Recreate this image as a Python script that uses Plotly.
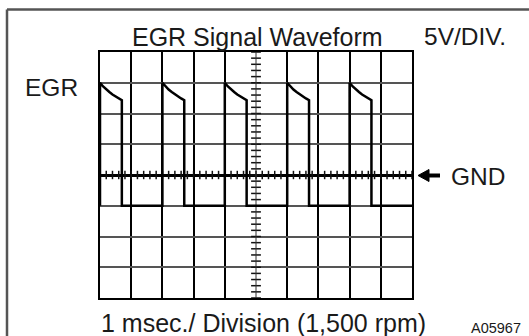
import plotly.graph_objects as go

# ---- data (time in ms, voltage in V, 5 V/div, 1 ms/div) ----
pulse_starts_ms = [0, 2, 4, 6, 8]
decay_offsets_ms = [0.0, 0.1, 0.2, 0.3, 0.4, 0.5, 0.6, 0.7]
decay_volts = [15.0, 14.4, 13.9, 13.5, 13.1, 12.75, 12.45, 12.15]
low_volts = -5.0
end_time_ms = 10.0

title_text = "EGR Signal Waveform"
scale_text = "5V/DIV."
signal_label = "EGR"
ground_label = "GND"
time_text = "1 msec./ Division (1,500 rpm)"
figure_id = "A05967"

# ---- build waveform ----
wx, wy = [0.0], [low_volts]
for t0 in pulse_starts_ms:
    wx.append(t0); wy.append(low_volts)
    for dt, v in zip(decay_offsets_ms, decay_volts):
        wx.append(t0 + dt); wy.append(v)
    wx.append(t0 + decay_offsets_ms[-1]); wy.append(low_volts)
wx.append(end_time_ms); wy.append(low_volts)

W, H = 529, 336
L, R, T, B = 100, 412, 52, 298


def px(x):
    return (x - L) / (R - L)


def py(y):
    return (B - y) / (B - T)


FONT = "Liberation Sans, Arial, Helvetica, sans-serif"

fig = go.Figure()

# center graticule ticks
hticks = [i * 0.2 for i in range(51)]
vticks = [-20 + i * 1.0 for i in range(41)]
fig.add_trace(go.Scatter(x=hticks, y=[0] * len(hticks), mode="markers",
                         marker=dict(symbol="line-ns", size=6, line=dict(width=1.5, color="#111")),
                         hoverinfo="skip", showlegend=False, cliponaxis=False))
fig.add_trace(go.Scatter(x=[5] * len(vticks), y=vticks, mode="markers",
                         marker=dict(symbol="line-ew", size=7, line=dict(width=1.5, color="#111")),
                         hoverinfo="skip", showlegend=False, cliponaxis=False))
fig.add_trace(go.Scatter(x=[5, 5], y=[-20, 20], mode="lines",
                         line=dict(color="#333", width=1), hoverinfo="skip", showlegend=False))

# waveform
fig.add_trace(go.Scatter(x=wx, y=wy, mode="lines", line=dict(color="black", width=2.5),
                         hoverinfo="skip", showlegend=False, cliponaxis=False))

fig.update_xaxes(range=[0, 10], tickvals=[1, 2, 3, 4, 6, 7, 8, 9], showticklabels=False,
                 ticks="", showgrid=True, gridcolor="black", gridwidth=2,
                 zeroline=False, showline=True, linecolor="black", linewidth=2, mirror=True,
                 fixedrange=True)
fig.update_yaxes(range=[-20, 20], tickvals=[-15, -10, -5, 5, 10, 15], showticklabels=False,
                 ticks="", showgrid=True, gridcolor="#555", gridwidth=2,
                 zeroline=True, zerolinecolor="black", zerolinewidth=2.5,
                 showline=True, linecolor="black", linewidth=2, mirror=True,
                 fixedrange=True)

shapes = [
    # outer frame (top and left edges visible)
    dict(type="line", xref="paper", yref="paper", x0=px(7), y0=py(9.5), x1=px(540), y1=py(9.5),
         line=dict(color="#555", width=2.5)),
    dict(type="line", xref="paper", yref="paper", x0=px(7), y0=py(9.5), x1=px(7), y1=py(345),
         line=dict(color="#555", width=2.5)),
    # GND arrow shaft and head
    dict(type="line", xref="paper", yref="paper", x0=px(426), y0=py(175.5), x1=px(440), y1=py(175.5),
         line=dict(color="black", width=4)),
    dict(type="path", xref="paper", yref="paper",
         path=f"M {px(418)} {py(175.5)} L {px(429)} {py(169.5)} L {px(429)} {py(181.5)} Z",
         fillcolor="black", line=dict(color="black", width=1)),
]

def ann(text, x, y, size, xanchor="center"):
    return dict(text=text, xref="paper", yref="paper", x=px(x), y=py(y), showarrow=False,
                xanchor=xanchor, yanchor="middle", font=dict(family=FONT, size=size, color="#1a1a1a"))

annotations = [
    ann(title_text, 257, 37, 25),
    ann(scale_text, 465, 37, 24.5),
    ann(signal_label, 51, 87, 24.5),
    ann(ground_label, 449, 176, 24.5, xanchor="left"),
    ann(time_text, 263, 323, 25),
    ann(figure_id, 496, 328, 14.5),
]

fig.update_layout(width=W, height=H, margin=dict(l=L, r=W - R, t=T, b=H - B, pad=0),
                  paper_bgcolor="white", plot_bgcolor="white", shapes=shapes,
                  annotations=annotations, showlegend=False)

fig.write_html("out.html", config={"displayModeBar": False},
               post_script="document.body.style.margin='0';document.body.style.padding='0';")
